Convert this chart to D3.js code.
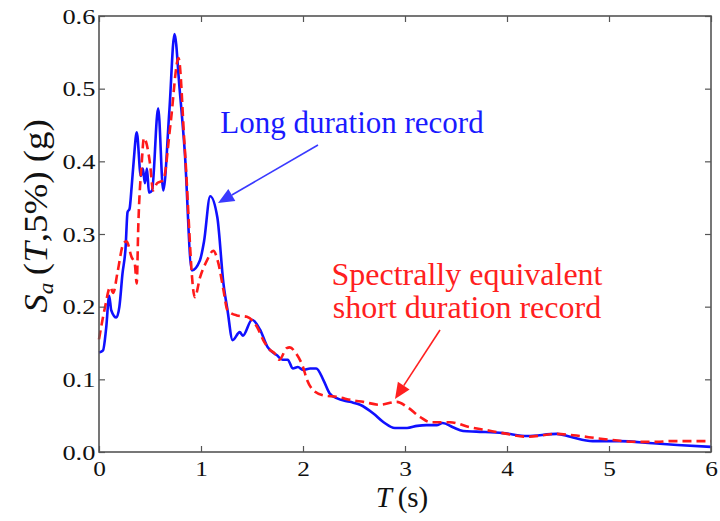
<!DOCTYPE html>
<html>
<head>
<meta charset="utf-8">
<script src="https://cdn.jsdelivr.net/npm/d3@7"></script>
<style>
  body { margin: 0; background: #fff; }
  svg { display: block; font-family: "Liberation Serif", "Times New Roman", serif; }
</style>
</head>
<body>
<figure id="chart" style="margin:0"></figure>
<script>
// data
let longT  = [0, 0.04, 0.07, 0.10, 0.12, 0.17, 0.20, 0.23, 0.26, 0.28, 0.30, 0.32, 0.34, 0.37, 0.41, 0.43, 0.45, 0.47, 0.49, 0.52, 0.58, 0.63, 0.69, 0.74, 0.79, 0.84, 0.91, 0.99, 1.03, 1.09, 1.16, 1.22, 1.26, 1.31, 1.38, 1.41, 1.50, 1.58, 1.65, 1.745, 1.80, 1.85, 1.90, 1.95, 2.0, 2.07, 2.13, 2.2, 2.26, 2.33, 2.46, 2.56, 2.69, 2.79, 2.9, 3.02, 3.12, 3.21, 3.31, 3.37, 3.47, 3.57, 3.7, 3.96, 4.2, 4.49, 4.62, 4.84, 5.1, 5.43, 5.67, 6.0];
let longSa = [0.137, 0.14, 0.17, 0.215, 0.195, 0.185, 0.20, 0.245, 0.28, 0.33, 0.335, 0.365, 0.40, 0.44, 0.38, 0.39, 0.37, 0.39, 0.357, 0.36, 0.473, 0.36, 0.47, 0.575, 0.50, 0.415, 0.25, 0.264, 0.29, 0.352, 0.323, 0.232, 0.195, 0.154, 0.165, 0.16, 0.182, 0.168, 0.145, 0.133, 0.127, 0.127, 0.115, 0.117, 0.113, 0.115, 0.115, 0.099, 0.081, 0.074, 0.069, 0.065, 0.053, 0.041, 0.033, 0.033, 0.036, 0.037, 0.037, 0.04, 0.034, 0.029, 0.028, 0.026, 0.022, 0.025, 0.021, 0.015, 0.015, 0.012, 0.0096, 0.007];

let shortT  = [0, 0.06, 0.11, 0.14, 0.18, 0.24, 0.27, 0.32, 0.35, 0.37, 0.385, 0.42, 0.44, 0.50, 0.53, 0.57, 0.63, 0.70, 0.78, 0.84, 0.94, 0.99, 1.06, 1.12, 1.17, 1.22, 1.26, 1.35, 1.45, 1.55, 1.61, 1.68, 1.72, 1.77, 1.84, 1.87, 1.93, 2.0, 2.04, 2.1, 2.2, 2.33, 2.49, 2.59, 2.75, 2.92, 3.02, 3.15, 3.25, 3.44, 3.64, 3.8, 3.96, 4.2, 4.49, 4.65, 4.94, 5.27, 5.47, 5.6, 6.0];
let shortSa = [0.155, 0.2, 0.227, 0.219, 0.246, 0.287, 0.29, 0.268, 0.26, 0.232, 0.31, 0.40, 0.432, 0.397, 0.36, 0.37, 0.374, 0.45, 0.542, 0.42, 0.213, 0.24, 0.264, 0.277, 0.26, 0.223, 0.195, 0.188, 0.186, 0.172, 0.154, 0.14, 0.136, 0.127, 0.143, 0.144, 0.136, 0.117, 0.099, 0.085, 0.078, 0.076, 0.071, 0.069, 0.065, 0.069, 0.062, 0.048, 0.041, 0.041, 0.034, 0.030, 0.026, 0.021, 0.025, 0.023, 0.018, 0.014, 0.014, 0.015, 0.015];

let xTicks = [0, 1, 2, 3, 4, 5, 6];
let yTicks = [0, 0.1, 0.2, 0.3, 0.4, 0.5, 0.6];

let dimensions = {
    width: 720,
    height: 521,
    margin: { top: 16, right: 9, bottom: 69, left: 99 },
};
dimensions.boundedWidth = dimensions.width - dimensions.margin.left - dimensions.margin.right;
dimensions.boundedHeight = dimensions.height - dimensions.margin.top - dimensions.margin.bottom;

let root = d3.select("figure#chart")
    .append("svg")
    .attr("width", dimensions.width)
    .attr("height", dimensions.height);

let svg = root.append("g")
    .attr("transform", `translate(${dimensions.margin.left}, ${dimensions.margin.top})`);

let xScale = d3.scaleLinear().domain([0, 6]).range([0, dimensions.boundedWidth]);
let yScale = d3.scaleLinear().domain([0, 0.6]).range([dimensions.boundedHeight, 0]);

let line = d3.line()
    .x(d => xScale(d[0]))
    .y(d => yScale(d[1]))
    .curve(d3.curveMonotoneX);

// curves
svg.append("path")
    .datum(d3.zip(longT, longSa))
    .attr("d", line)
    .attr("fill", "none")
    .attr("stroke", "#1010ff")
    .attr("stroke-width", 2.6);

svg.append("path")
    .datum(d3.zip(shortT, shortSa))
    .attr("d", line)
    .attr("fill", "none")
    .attr("stroke", "#ff1a1a")
    .attr("stroke-width", 2.6)
    .attr("stroke-dasharray", "9,5");

// axes with inward ticks on all sides
let axisColor = "#555";
function styleAxis(g) {
    g.select(".domain").remove();
    g.selectAll("line").attr("stroke", axisColor).attr("stroke-width", 1.2);
    g.selectAll("text")
        .attr("fill", "#111")
        .style("font-family", "Liberation Serif")
        .style("font-size", "22px");
}

let xAxis = svg.append("g")
    .attr("transform", `translate(0, ${dimensions.boundedHeight})`)
    .call(d3.axisBottom(xScale).tickValues(xTicks).tickFormat(d3.format("d")).tickSizeInner(-6).tickSizeOuter(0).tickPadding(8))
    .call(styleAxis);
xAxis.selectAll("text").attr("transform", "scale(1.15,1)");

let yAxis = svg.append("g")
    .call(d3.axisLeft(yScale).tickValues(yTicks).tickFormat(d3.format(".1f")).tickSizeInner(-6).tickSizeOuter(0).tickPadding(3))
    .call(styleAxis);
yAxis.selectAll("text").attr("transform", "scale(1.2,1)");

svg.append("g")
    .call(d3.axisTop(xScale).tickValues(xTicks).tickFormat("").tickSizeInner(-6).tickSizeOuter(0))
    .call(styleAxis);
svg.append("g")
    .attr("transform", `translate(${dimensions.boundedWidth}, 0)`)
    .call(d3.axisRight(yScale).tickValues(yTicks).tickFormat("").tickSizeInner(-6).tickSizeOuter(0))
    .call(styleAxis);

svg.append("rect")
    .attr("width", dimensions.boundedWidth)
    .attr("height", dimensions.boundedHeight)
    .attr("fill", "none")
    .attr("stroke", axisColor)
    .attr("stroke-width", 1.6);

// axis titles
let xTitle = root.append("text")
    .attr("x", 402)
    .attr("y", 507)
    .attr("text-anchor", "middle")
    .style("font-size", "29px")
    .attr("fill", "#111");
xTitle.append("tspan").style("font-style", "italic").text("T");
xTitle.append("tspan").text("\u2009(s)");

let yTitle = root.append("text")
    .attr("transform", "translate(47, 216) rotate(-90) scale(1.12,1)")
    .attr("text-anchor", "middle")
    .style("font-size", "33px")
    .attr("fill", "#111");
yTitle.append("tspan").style("font-style", "italic").text("S");
yTitle.append("tspan").style("font-style", "italic").style("font-size", "21px").attr("dy", 6).text("a");
yTitle.append("tspan").attr("dy", -6).text("\u2009(");
yTitle.append("tspan").style("font-style", "italic").text("T");
yTitle.append("tspan").text(",5%) (g)");

// annotations
function arrow(x1, y1, x2, y2, color, width) {
    let ang = Math.atan2(y2 - y1, x2 - x1);
    let len = 16, half = 7;
    let bx = x2 - len * Math.cos(ang), by = y2 - len * Math.sin(ang);
    root.append("line")
        .attr("x1", x1).attr("y1", y1).attr("x2", bx).attr("y2", by)
        .attr("stroke", color).attr("stroke-width", width);
    let pts = [
        [x2, y2],
        [bx + half * Math.sin(ang), by - half * Math.cos(ang)],
        [bx - half * Math.sin(ang), by + half * Math.cos(ang)],
    ];
    root.append("polygon")
        .attr("points", pts.map(p => p.join(",")).join(" "))
        .attr("fill", color);
}

root.append("text")
    .attr("x", 352).attr("y", 133)
    .attr("text-anchor", "middle")
    .style("font-size", "31px")
    .attr("fill", "#1a1aff")
    .text("Long duration record");
arrow(318, 145, 218, 203, "#3a3aff", 1.6);

root.append("text")
    .attr("x", 467).attr("y", 285)
    .attr("text-anchor", "middle")
    .style("font-size", "32px")
    .attr("fill", "#ff2020")
    .text("Spectrally equivalent");
root.append("text")
    .attr("x", 467).attr("y", 318)
    .attr("text-anchor", "middle")
    .style("font-size", "32px")
    .attr("fill", "#ff2020")
    .text("short duration record");
arrow(440, 330, 395, 399, "#ff2020", 1.6);
</script>
</body>
</html>
